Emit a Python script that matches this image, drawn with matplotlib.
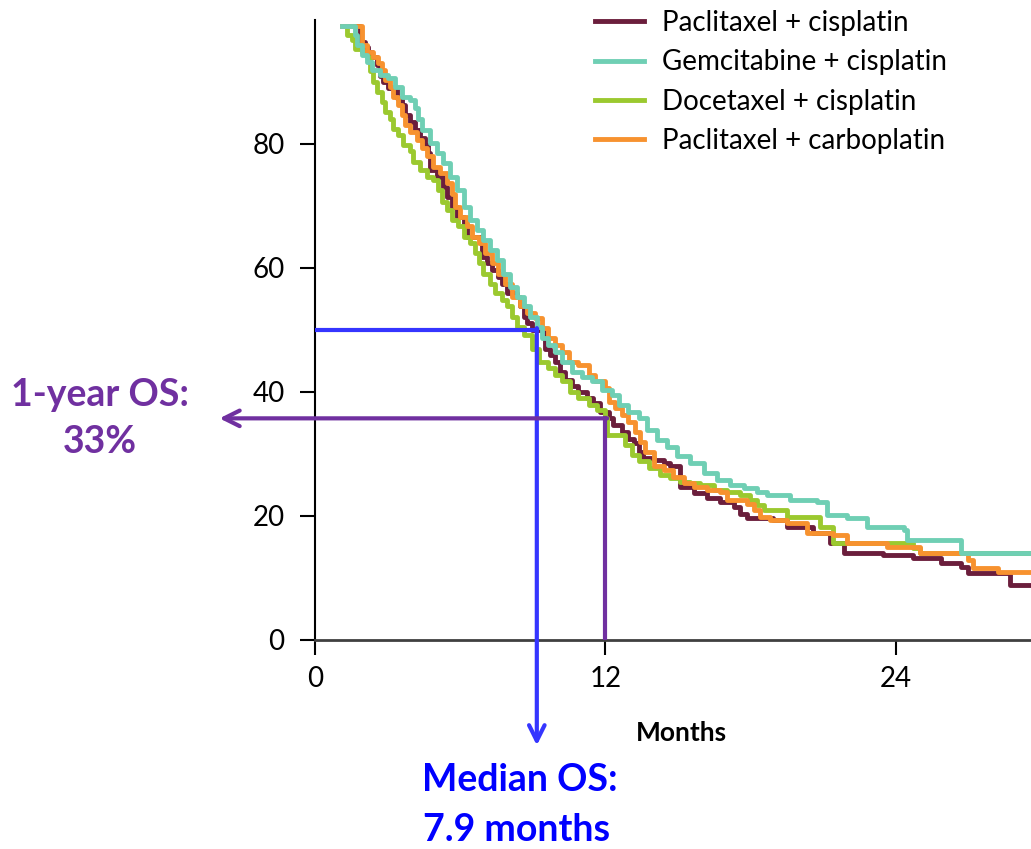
import matplotlib
matplotlib.use("Agg")
import matplotlib.pyplot as plt

plt.rcParams['font.family'] = ['Lato', 'DejaVu Sans']

# Kaplan-Meier style OS curves (months, % alive)
pc_t = [1.1, 1.86, 2.07, 2.21, 2.35, 2.55, 2.69, 2.83, 3.03, 3.38, 3.59, 3.72, 3.93, 4.14, 4.34,
        4.55, 4.69, 4.76, 5.04, 5.31, 5.45, 5.66, 5.86, 6.14, 6.28, 6.90, 7.10, 7.31, 7.58, 7.72,
        7.93, 8.35, 8.48, 8.62, 8.76, 8.97, 9.52, 9.72, 9.93, 10.14, 10.34, 10.62, 10.89, 11.24,
        11.51, 11.79, 12.14, 12.34, 12.69, 12.96, 13.17, 13.38, 13.58, 14.00, 14.41, 14.69, 15.10,
        15.65, 16.21, 16.76, 17.31, 17.58, 17.86, 18.95, 19.53, 20.60, 21.31, 21.85, 23.50, 24.74,
        25.86, 26.69, 26.98, 28.75, 29.6]
pc_s = [99, 96.5, 95.7, 94.9, 94.1, 92.7, 90.9, 90.0, 89.0, 87.4, 86.3, 84.7, 83.6, 82.3, 80.9,
        79.8, 78.5, 75.8, 74.7, 73.1, 71.5, 69.9, 68.3, 66.7, 65.0, 61.8, 60.8, 59.7, 58.6, 57.5,
        55.9, 55.4, 53.8, 52.1, 51.1, 50.0, 47.0, 46.0, 44.9, 43.3, 41.9, 40.9, 40.0, 39.0,
        38.2, 36.8, 35.8, 34.7, 33.6, 32.5, 31.7, 30.4, 29.3, 29.0, 28.5, 28.0, 24.7,
        23.7, 22.9, 22.3, 21.5, 20.4, 19.6, 19.4, 18.2, 17.3, 15.6, 14.0, 13.7, 13.2,
        12.4, 11.8, 10.8, 8.9, 8.9]

gc_t = [1.1, 1.65, 1.73, 1.93, 2.14, 2.35, 2.69, 3.03, 3.31, 3.59, 3.93, 4.14, 4.27, 4.41, 4.76,
        5.04, 5.31, 5.59, 5.86, 6.14, 6.41, 6.69, 6.96, 7.24, 7.52, 7.79, 8.07, 8.35, 8.62, 8.90,
        9.17, 9.38, 9.65, 9.93, 10.21, 10.62, 11.03, 11.45, 11.86, 12.28, 12.55, 12.96, 13.38,
        13.72, 14.14, 14.55, 14.96, 15.52, 16.07, 16.62, 17.17, 17.72, 18.27, 18.69, 19.65, 20.77,
        21.18, 22.0, 22.84, 24.34, 24.49, 26.27, 26.69, 29.6]
gc_s = [99, 97.6, 96.0, 94.4, 93.3, 91.9, 91.1, 90.6, 89.2, 87.6, 87.1, 85.8, 84.1, 82.3, 80.1,
        78.5, 76.9, 74.7, 72.6, 69.9, 67.7, 66.1, 64.5, 62.9, 61.3, 59.1, 57.0, 55.4, 53.8, 52.1,
        50.5, 48.7, 47.6, 46.5, 44.9, 43.3, 42.5, 41.7, 40.3, 39.5, 37.9, 36.8, 35.8,
        33.9, 32.3, 31.2, 29.6, 28.5, 26.9, 25.8, 25.0, 24.5, 23.9, 23.4, 22.6, 22.3,
        20.2, 19.6, 18.2, 17.7, 16.1, 16.1, 14.0, 14.0]

dc_t = [1.1, 1.31, 1.52, 1.65, 1.93, 2.14, 2.28, 2.41, 2.55, 2.76, 2.90, 3.10, 3.24, 3.45, 3.65,
        3.93, 4.07, 4.34, 4.62, 4.89, 5.10, 5.24, 5.45, 5.66, 5.93, 6.14, 6.41, 6.62, 6.76, 6.96,
        7.24, 7.45, 7.72, 7.93, 8.14, 8.35, 8.62, 8.97, 9.24, 9.65, 9.93, 10.21, 10.55, 10.89,
        11.31, 11.65, 12.00, 12.07, 12.83, 13.10, 13.38, 13.79, 14.27, 14.69, 15.10, 15.52, 15.93,
        16.48, 17.03, 17.58, 18.00, 18.27, 18.55, 19.53, 20.89, 21.43, 24.74, 25.03, 29.6]
dc_s = [99, 97.6, 96.8, 95.4, 94.9, 94.1, 91.7, 90.0, 88.4, 86.8, 85.2, 84.1, 82.5, 81.5, 79.8,
        78.8, 77.1, 75.8, 74.7, 74.2, 72.6, 70.7, 69.4, 67.7, 66.7, 65.0, 64.0, 62.4, 60.8, 59.1,
        57.5, 55.9, 54.8, 53.8, 52.1, 50.5, 49.2, 47.0, 44.9, 43.8, 42.7, 41.7, 40.0, 39.0,
        37.9, 37.1, 35.8, 33.1, 31.5, 29.8, 28.8, 27.7, 26.6, 26.1, 25.5, 25.3, 25.0,
        24.2, 23.9, 23.4, 22.6, 21.8, 21.0, 19.8, 18.2, 15.6, 14.8, 14.0, 14.0]

pcb_t = [1.1, 1.93, 2.14, 2.41, 2.62, 2.76, 2.90, 3.10, 3.24, 3.45, 3.59, 3.72, 3.93, 4.21, 4.41,
         4.62, 4.89, 5.17, 5.45, 5.66, 5.79, 6.00, 6.28, 6.48, 6.76, 7.03, 7.31, 7.58, 7.86, 8.14,
         8.48, 8.76, 9.10, 9.38, 9.65, 9.93, 10.21, 10.48, 10.89, 11.31, 11.58, 12.00, 12.14,
         12.41, 12.69, 12.96, 13.24, 13.45, 13.65, 14.00, 14.41, 14.82, 15.24, 15.65, 16.21,
         16.76, 17.03, 17.86, 18.14, 18.41, 18.82, 19.53, 20.36, 21.43, 22.01, 23.66, 25.03,
         26.98, 27.22, 28.22, 29.6]
pcb_s = [99, 96.0, 94.9, 94.1, 93.0, 91.9, 90.3, 89.2, 87.6, 86.3, 84.7, 83.1, 82.0, 80.6, 79.3,
         78.0, 76.3, 75.3, 73.7, 72.0, 69.9, 68.3, 66.7, 65.0, 64.0, 62.4, 60.8, 59.1, 57.5, 55.4,
         53.8, 52.7, 51.9, 50.3, 48.7, 47.6, 46.5, 44.9, 44.4, 42.7, 41.7, 40.6, 38.4,
         37.4, 36.3, 35.2, 33.6, 32.0, 30.4, 28.0, 27.4, 26.3, 25.3, 24.7, 24.2,
         23.9, 22.6, 22.0, 21.0, 19.9, 19.4, 18.9, 17.3, 16.9, 15.6, 15.0, 14.0,
         12.9, 11.6, 11.0, 11.0]

labels = ['Paclitaxel + cisplatin', 'Gemcitabine + cisplatin',
          'Docetaxel + cisplatin', 'Paclitaxel + carboplatin']
colors = ['#6B1E3C', '#6FCFB4', '#9BC92F', '#F7922F']

median_os = 9.17   # where the drawn median line sits on the axis
median_y = 50
year_os = 35.75
year_x = 12

fig = plt.figure(figsize=(10.31, 8.49), dpi=100)
ax = fig.add_axes([315 / 1031, 1 - 640 / 849, 716 / 1031, 620 / 849])

lines = []
for t, s, c, lab in zip([pc_t, gc_t, dc_t, pcb_t], [pc_s, gc_s, dc_s, pcb_s], colors, labels):
    ln, = ax.plot(t, s, drawstyle='steps-post', color=c, lw=3.5, label=lab)
    lines.append(ln)
lines[1].set_zorder(3)

# median OS guide + arrow
blue = '#3535FF'
ax.plot([0, median_os], [median_y, median_y], color=blue, lw=3, zorder=4)
ax.annotate('', xy=(median_os, -17), xytext=(median_os, median_y + 0.3),
            arrowprops=dict(arrowstyle='->', color=blue, lw=3, mutation_scale=28,
                            shrinkA=0, shrinkB=0),
            annotation_clip=False, zorder=4)

# 1-year OS guide + arrow
purple = '#7030A0'
ax.plot([year_x, year_x], [0, year_os], color=purple, lw=3, zorder=4)
ax.annotate('', xy=(-3.95, year_os), xytext=(year_x + 0.08, year_os),
            arrowprops=dict(arrowstyle='->', color=purple, lw=3, mutation_scale=28,
                            shrinkA=0, shrinkB=0),
            annotation_clip=False, zorder=4)

ax.set_xlim(0, 29.6)
ax.set_ylim(0, 100)
ax.set_xticks([0, 12, 24])
ax.set_yticks([0, 20, 40, 60, 80])
ax.tick_params(axis='both', direction='out', length=11, width=1.5, labelsize=20, color='black')
ax.tick_params(axis='x', pad=8)
ax.tick_params(axis='y', pad=11)
for sp in ['top', 'right']:
    ax.spines[sp].set_visible(False)
ax.spines['left'].set_linewidth(1.5)
ax.spines['bottom'].set_linewidth(2)
ax.spines['bottom'].set_color('#404040')

fig.text(681 / 1031, 1 - 733 / 849, 'Months', fontsize=19, fontweight='bold',
         ha='center', va='center')

fig.text(100 / 1031, 1 - 395 / 849, '1-year OS:', fontsize=27, fontweight='bold',
         color=purple, ha='center', va='center')
fig.text(100 / 1031, 1 - 442 / 849, '33%', fontsize=27, fontweight='bold',
         color=purple, ha='center', va='center')
fig.text(520 / 1031, 1 - 780 / 849, 'Median OS:', fontsize=27, fontweight='bold',
         color='#0000FF', ha='center', va='center')
fig.text(517 / 1031, 1 - 830 / 849, '7.9 months', fontsize=27, fontweight='bold',
         color='#0000FF', ha='center', va='center')

fig.legend(handles=lines, loc='upper left', bbox_to_anchor=(595 / 1031, 1 - 10 / 849),
           frameon=False, fontsize=20, handlelength=1.75, handletextpad=0.65,
           labelspacing=0.48, borderpad=0, borderaxespad=0)

fig.savefig('out.png', dpi=100)
